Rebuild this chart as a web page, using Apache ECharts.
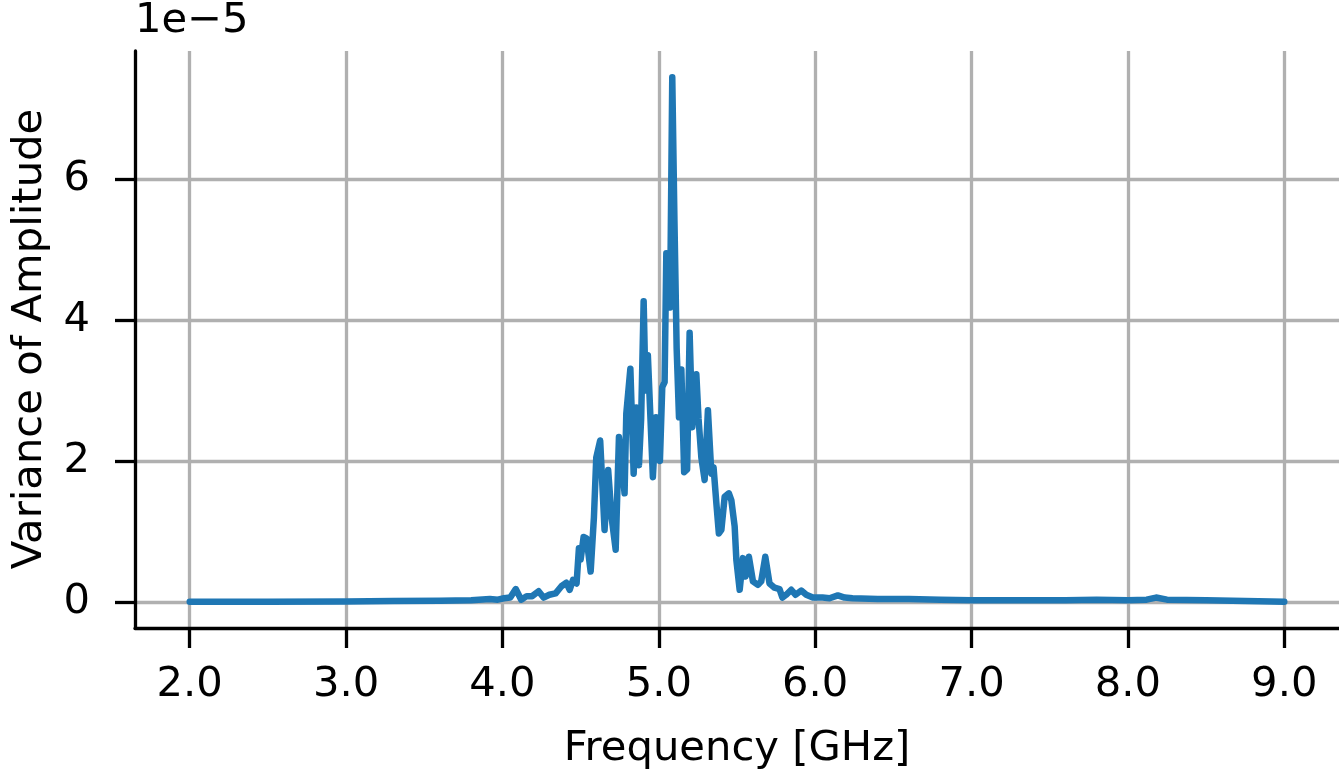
<!DOCTYPE html>
<html>
<head>
<meta charset="utf-8">
<script src="https://cdn.jsdelivr.net/npm/echarts@6/dist/echarts.min.js"></script>
<style>
  html, body { margin: 0; padding: 0; background: #fff; }
  #chart { width: 1339px; height: 778px; }
</style>
</head>
<body>
<div id="chart"></div>
<script>
// frequency in GHz, variance in units of 1e-5
const freqGHz = [
  2.00, 2.50, 3.00, 3.30, 3.60, 3.80, 3.92, 3.97, 4.01, 4.05,
  4.085, 4.12, 4.155, 4.19, 4.231, 4.263, 4.30, 4.34, 4.377, 4.409,
  4.43, 4.451, 4.474, 4.489, 4.50, 4.519, 4.538, 4.564, 4.585, 4.60,
  4.625, 4.653, 4.676, 4.698, 4.724, 4.745, 4.762, 4.781, 4.792, 4.818,
  4.839, 4.856, 4.873, 4.887, 4.903, 4.915, 4.930, 4.962, 4.982, 5.007,
  5.022, 5.037, 5.048, 5.072, 5.086, 5.100, 5.114, 5.129, 5.144, 5.162,
  5.181, 5.197, 5.214, 5.226, 5.240, 5.254, 5.272, 5.293, 5.314, 5.336,
  5.350, 5.368, 5.384, 5.400, 5.421, 5.448, 5.464, 5.485, 5.496, 5.517,
  5.538, 5.555, 5.576, 5.602, 5.634, 5.655, 5.681, 5.708, 5.740, 5.772,
  5.790, 5.815, 5.847, 5.875, 5.911, 5.943, 5.985, 6.047, 6.092, 6.145,
  6.188, 6.239, 6.40, 6.60, 6.80, 7.00, 7.30, 7.60, 7.80, 8.00,
  8.12, 8.18, 8.25, 8.50, 8.75, 9.00
];
const variance = [
  0.00, 0.00, 0.005, 0.01, 0.015, 0.02, 0.04, 0.03, 0.05, 0.06,
  0.18, 0.03, 0.08, 0.08, 0.15, 0.06, 0.10, 0.12, 0.22, 0.27,
  0.17, 0.31, 0.26, 0.76, 0.60, 0.92, 0.90, 0.43, 1.20, 2.05,
  2.29, 1.02, 1.87, 1.20, 0.74, 2.34, 2.00, 1.54, 2.67, 3.31,
  1.82, 2.76, 1.94, 2.60, 4.27, 3.00, 3.50, 1.77, 2.62, 2.00,
  3.05, 3.12, 4.95, 4.18, 7.45, 5.40, 3.60, 2.62, 3.30, 1.84,
  1.88, 3.82, 2.48, 2.90, 3.23, 2.60, 2.05, 1.73, 2.72, 1.82,
  1.91, 1.40, 0.97, 1.02, 1.49, 1.54, 1.44, 1.07, 0.59, 0.17,
  0.62, 0.36, 0.64, 0.29, 0.24, 0.29, 0.64, 0.26, 0.20, 0.18,
  0.06, 0.10, 0.17, 0.10, 0.16, 0.10, 0.06, 0.06, 0.05, 0.09,
  0.06, 0.05, 0.04, 0.04, 0.03, 0.02, 0.02, 0.02, 0.03, 0.02,
  0.03, 0.06, 0.03, 0.02, 0.01, 0.00
];
const xTicks = [2, 3, 4, 5, 6, 7, 8, 9];
const yTicks = [0, 2, 4, 6];

const FONT = "DejaVu Sans";
const FS = 41.7;

const chart = echarts.init(document.getElementById("chart"), null, { renderer: "canvas" });

const option = {
  animation: false,
  backgroundColor: "#fff",
  grid: { left: 135, right: 0, top: 50, bottom: 150, containLabel: false },
  xAxis: {
    type: "value",
    min: 1.65,
    max: 9.35,
    name: "Frequency [GHz]",
    nameLocation: "middle",
    nameGap: 100,
    nameTextStyle: { fontFamily: FONT, fontSize: FS, color: "#000" },
    axisLine: { show: true, onZero: false, lineStyle: { color: "#000", width: 3.3 } },
    axisTick: { show: true, length: 20, customValues: xTicks, lineStyle: { color: "#000", width: 3.3 } },
    axisLabel: {
      customValues: xTicks,
      margin: 36,
      fontFamily: FONT,
      fontSize: FS,
      color: "#000",
      formatter: (v) => v.toFixed(1),
    },
    splitLine: { show: true, lineStyle: { color: "#b0b0b0", width: 3.3 } },
  },
  yAxis: {
    type: "value",
    min: -0.3725,
    max: 7.8225,
    name: "1e\u22125",
    nameLocation: "end",
    nameGap: 9,
    nameTextStyle: { fontFamily: FONT, fontSize: FS, color: "#000", align: "left", verticalAlign: "bottom" },
    axisLine: { show: true, onZero: false, lineStyle: { color: "#000", width: 3.3 } },
    axisTick: { show: true, length: 20, customValues: yTicks, lineStyle: { color: "#000", width: 3.3 } },
    axisLabel: {
      customValues: yTicks,
      margin: 45,
      fontFamily: FONT,
      fontSize: FS,
      color: "#000",
    },
    splitLine: { show: true, lineStyle: { color: "#b0b0b0", width: 3.3 } },
  },
  graphic: [
    {
      type: "text",
      x: 30,
      y: 339,
      rotation: Math.PI / 2,
      style: {
        text: "Variance of Amplitude",
        font: FS + 'px "' + FONT + '"',
        fill: "#000",
        align: "center",
        verticalAlign: "middle",
      },
    },
  ],
  series: [
    {
      type: "line",
      data: freqGHz.map((f, i) => [f, variance[i]]),
      showSymbol: false,
      symbol: "none",
      lineStyle: { color: "#1f77b4", width: 6.5, join: "round", cap: "round" },
      z: 3,
    },
  ],
};

chart.setOption(option);
window.addEventListener("resize", () => chart.resize());
</script>
</body>
</html>
